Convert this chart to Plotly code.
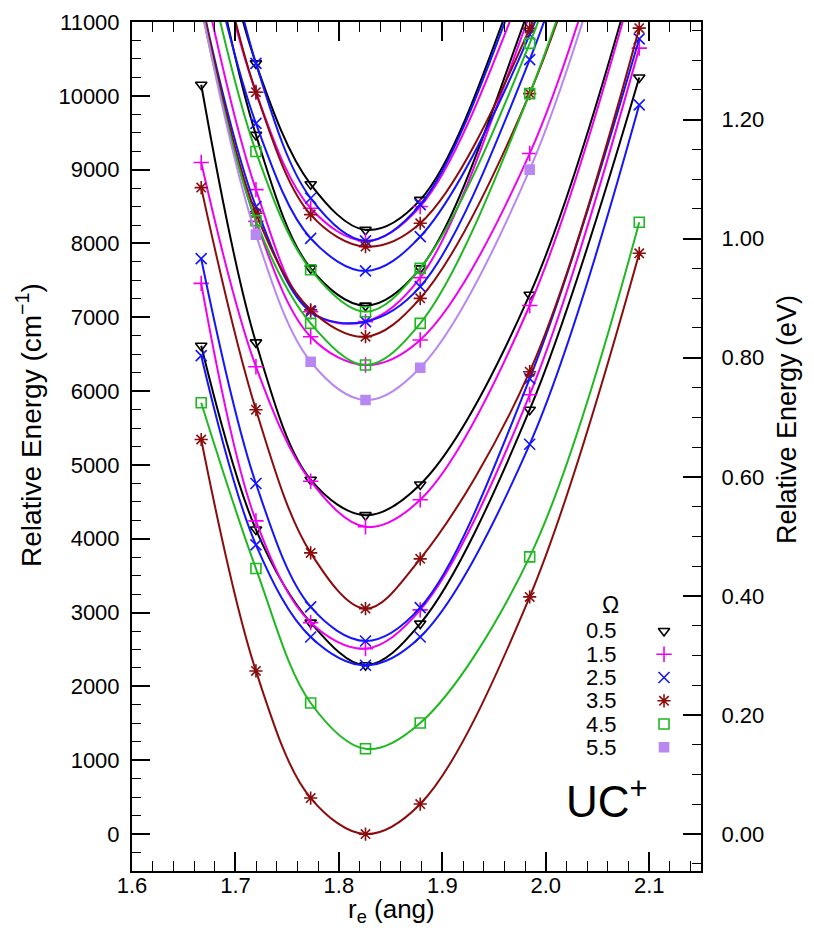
import plotly.graph_objects as go

# bond lengths (angstrom) of the computed points
r_ang = [1.6669, 1.7198, 1.7727, 1.8257, 1.8786, 1.9844, 2.0903]

# relative energies (cm-1) of every state, grouped by Omega
omega_0p5 = [
    [6615, 4125, 2865, 2287, 2851, 5748, 10248],
    [10150, 6660, 4800, 4320, 4735, 7306, 11900],
    [12720, 9471, 7663, 7158, 7663, 11200, 15800],
    [13390, 10440, 8802, 8184, 8590, 12000, 16600],
]
omega_1p5 = [
    [7460, 4243, 2865, 2512, 3037, 5950, 10646],
    [9096, 6331, 4780, 4162, 4528, 7160, 11810],
    [11200, 8300, 6737, 6354, 6693, 9218, 13800],
    [11700, 8730, 7076, 6941, 7537, 11100, 15700],
    [12880, 10049, 8477, 8035, 8500, 11700, 16300],
]
omega_2p5 = [
    [6480, 3918, 2670, 2287, 2670, 5280, 9878],
    [7794, 4749, 3077, 2616, 3068, 6170, 10772],
    [11300, 8500, 7076, 6941, 7415, 10490, 15100],
    [12430, 9626, 8070, 7628, 8093, 10830, 15400],
    [13740, 10440, 8613, 8035, 8527, 11900, 16500],
]
omega_3p5 = [
    [5345, 2210, 488, 0, 407, 3213, 7867],
    [8757, 5748, 3809, 3054, 3728, 6263, 10917],
    [11300, 8409, 7100, 6737, 7257, 10030, 14600],
    [13050, 10049, 8391, 7958, 8274, 10913, 15500],
]
omega_4p5 = [
    [5843, 3597, 1776, 1156, 1505, 3755, 8287],
    [11200, 8310, 6918, 6354, 6918, 10030, 14600],
    [12150, 9245, 7645, 7076, 7663, 10710, 15300],
]
omega_5p5 = [
    [11200, 8120, 6398, 5879, 6317, 9000, 13600],
]

omega_labels = ["0.5", "1.5", "2.5", "3.5", "4.5", "5.5"]
omega_groups = [omega_0p5, omega_1p5, omega_2p5, omega_3p5, omega_4p5, omega_5p5]

x_title = "r<sub>e</sub> (ang)"
y_title = "Relative Energy (cm<sup>−1</sup>)"
y2_title = "Relative Energy (eV)"
molecule = "UC<sup>+</sup>"

CM_PER_EV = 8065.54

colors = ["#000000", "#f000f0", "#1414ff", "#8b0c0c", "#20b820", "#b987f2"]
symbols = ["triangle-down-open", "cross-thin-open", "x-thin-open",
           "asterisk-open", "square-open", "square"]
sizes = [10, 11, 11, 11, 10, 9]

FONT = "Liberation Sans, Arial, Helvetica, sans-serif"

fig = go.Figure()

for label, group, col, sym, sz in zip(omega_labels, omega_groups, colors, symbols, sizes):
    for curve in group:
        fig.add_trace(go.Scatter(
            x=r_ang, y=curve, mode="lines+markers",
            line=dict(shape="spline", smoothing=1.0, color=col, width=2),
            marker=dict(symbol=sym, size=sz, color=col,
                        line=dict(color=col, width=1.6)),
            name=label, showlegend=False, cliponaxis=True, hoverinfo="x+y",
        ))

# carrier trace for the eV axis
fig.add_trace(go.Scatter(x=[None], y=[None], yaxis="y2", showlegend=False,
                         hoverinfo="skip"))

# legend symbols drawn on an overlay axis covering the plot area
leg_x = 0.935
leg_y0 = 0.2827
leg_dy = 0.0274
for i, (label, col, sym, sz) in enumerate(zip(omega_labels, colors, symbols, sizes)):
    fig.add_trace(go.Scatter(
        x=[leg_x], y=[leg_y0 - i * leg_dy], xaxis="x3", yaxis="y3",
        mode="markers",
        marker=dict(symbol=sym, size=sz, color=col, line=dict(color=col, width=1.6)),
        showlegend=False, hoverinfo="skip",
    ))

axis_common = dict(
    showline=True, linewidth=2, linecolor="black", showgrid=False, zeroline=False,
    ticks="inside", tickcolor="black", tickwidth=1.5, automargin=False,
    tickfont=dict(family=FONT, size=22, color="black"),
)

# the page body adds an 8 px offset, so the figure is shifted/shrunk to match the window
fig.update_layout(
    width=798, height=919,
    margin=dict(l=124, r=105, t=14, b=56),
    paper_bgcolor="white", plot_bgcolor="white",
    font=dict(family=FONT, color="black"),
    showlegend=False,
    xaxis=dict(
        range=[1.6, 2.15], tick0=1.6, dtick=0.1, tickformat=".1f", ticklen=19,
        mirror="ticks", ticklabelstandoff=-6,
        minor=dict(dtick=0.02, ticklen=10, ticks="inside", tickcolor="black", tickwidth=1.2),
        **axis_common,
    ),
    yaxis=dict(
        range=[-500, 11000], tick0=0, dtick=1000, tickformat="d", ticklen=18,
        ticklabelstandoff=6,
        minor=dict(dtick=250, ticklen=9, ticks="inside", tickcolor="black", tickwidth=1.2),
        **axis_common,
    ),
    yaxis2=dict(
        overlaying="y", side="right", anchor="x",
        range=[-500 / CM_PER_EV, 11000 / CM_PER_EV], tick0=0, dtick=0.2,
        tickformat=".2f", ticklen=18, ticklabelstandoff=14,
        minor=dict(dtick=0.05, ticklen=9, ticks="inside", tickcolor="black", tickwidth=1.2),
        **axis_common,
    ),
    xaxis3=dict(overlaying="x", anchor="y3", range=[0, 1], visible=False),
    yaxis3=dict(overlaying="y", anchor="x3", range=[0, 1], visible=False),
)


def px_x(p):
    return (p - 132) / 569


def px_y(p):
    return (871 - p) / 849


# axis titles (placed as in the reference, off-centre)
fig.add_annotation(text=x_title, xref="paper", yref="paper", x=px_x(391), y=px_y(911),
                   showarrow=False, xanchor="center", yanchor="middle",
                   font=dict(family=FONT, size=26, color="black"))
fig.add_annotation(text=y_title, xref="paper", yref="paper", x=px_x(29), y=px_y(425),
                   textangle=-90, showarrow=False, xanchor="center", yanchor="middle",
                   font=dict(family=FONT, size=28, color="black"))
fig.add_annotation(text=y2_title, xref="paper", yref="paper", x=px_x(787), y=px_y(420),
                   textangle=-90, showarrow=False, xanchor="center", yanchor="middle",
                   font=dict(family=FONT, size=27, color="black"))

# legend text
fig.add_annotation(text="Ω", xref="paper", yref="paper", x=px_x(610),
                   y=leg_y0 + 0.031, showarrow=False, xanchor="center", yanchor="middle",
                   font=dict(family=FONT, size=23, color="black"))
for i, label in enumerate(omega_labels):
    fig.add_annotation(text=label, xref="paper", yref="paper", x=px_x(601),
                       y=leg_y0 - i * leg_dy, showarrow=False,
                       xanchor="center", yanchor="middle",
                       font=dict(family=FONT, size=22, color="black"))

fig.add_annotation(text=molecule, xref="paper", yref="paper",
                   x=px_x(607), y=px_y(798), showarrow=False,
                   xanchor="center", yanchor="middle",
                   font=dict(family=FONT, size=44, color="black"))

fig.write_html("out.html")
